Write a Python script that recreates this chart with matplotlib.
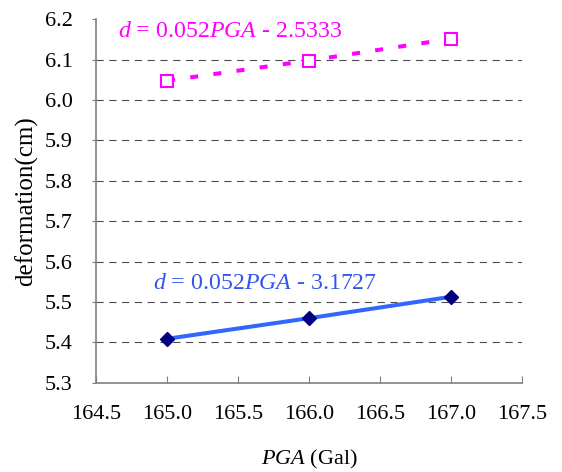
import numpy as np
import matplotlib
matplotlib.use("Agg")
import matplotlib.pyplot as plt

plt.rcParams['font.family'] = ['Liberation Serif', 'DejaVu Serif']
plt.rcParams['mathtext.fontset'] = 'custom'
plt.rcParams['mathtext.rm'] = 'Liberation Serif'
plt.rcParams['mathtext.it'] = 'Liberation Serif:italic'

pga = [165.0, 166.0, 167.0]
upper = [6.048, 6.098, 6.152]
lower = [5.409, 5.460, 5.513]
upper_eq = r'$d$ = 0.052$PGA$ - 2.5333'
lower_eq = r'$d$ = 0.052$PGA$ - 3.1727'

fig = plt.figure(figsize=(5.62, 4.72), dpi=100)
ax = fig.add_axes([0.171, 0.189, 0.758, 0.770])

for y in np.arange(5.4, 6.15, 0.1):
    ax.axhline(y, color='#4d4d4d', lw=0.8, ls=(0, (6.5, 5.0)), zorder=1)

ax.plot(pga, upper, color='#FF00FF', lw=2.9, ls=(0, (2.0, 3.8)),
        dash_capstyle='butt', marker='s', markersize=8.5,
        markerfacecolor='white', markeredgecolor='#FF00FF',
        markeredgewidth=1.5, zorder=3)
ax.plot(pga, lower, color='#3366FF', lw=2.9, marker='D', markersize=7.5,
        markerfacecolor='#000080', markeredgecolor='#000080', zorder=3)

ax.text(164.657, 6.157, upper_eq, color='#FF00FF', fontsize=17.2, va='baseline')
ax.text(164.903, 5.532, lower_eq, color='#3355EE', fontsize=17.2, va='baseline')

ax.set_xlim(164.5, 167.5)
ax.set_ylim(5.3, 6.2)
ax.set_xticks(np.arange(164.5, 167.51, 0.5))
ax.set_xticklabels([f'{v:.1f}' for v in np.arange(164.5, 167.51, 0.5)])
ax.set_yticks(np.arange(5.3, 6.21, 0.1))
ax.set_yticklabels([f'{v:.1f}' for v in np.arange(5.3, 6.21, 0.1)])

for s in ['top', 'right']:
    ax.spines[s].set_visible(False)
for s in ['left', 'bottom']:
    ax.spines[s].set_color('#808080')
    ax.spines[s].set_linewidth(1.2)
ax.tick_params(axis='x', direction='in', length=5, color='#808080',
               labelsize=16, pad=16)
ax.tick_params(axis='y', direction='out', length=3, color='#808080',
               labelsize=16, pad=14)

ax.set_xlabel(r'$PGA$ (Gal)', fontsize=16, labelpad=17)
ax.set_ylabel('deformation(cm)', fontsize=18, labelpad=5)

fig.savefig('out.png', dpi=100)
